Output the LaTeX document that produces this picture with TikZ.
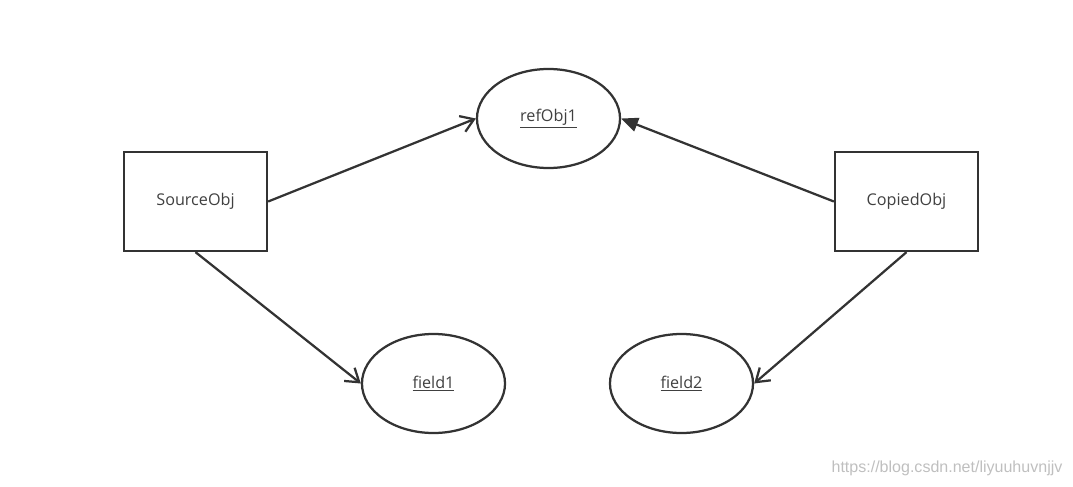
\documentclass[tikz,border=0pt]{standalone}
\usepackage{fontspec}
\setmainfont{Open Sans}
\newfontfamily\markfont{Liberation Sans}
\usetikzlibrary{arrows.meta, positioning, shapes.geometric}

\tikzset{
	objbox/.style={draw=black!80, line width=1.6pt, minimum width=3.575cm, minimum height=2.475cm, inner sep=0pt, font=\fontsize{11.5}{14}\selectfont, text=black!75},
	objell/.style={ellipse, draw=black!80, line width=1.6pt, minimum width=3.575cm, minimum height=2.475cm, inner sep=0pt, font=\fontsize{11.5}{14}\selectfont, text=black!75},
	link/.style={draw=black!80, line width=1.6pt},
}

\begin{document}
\begin{tikzpicture}[x=0.025cm, y=-0.025cm]
		\useasboundingbox (0,0) rectangle (1073,487);
		\node[objbox] (src) at (195.5,201.5) {SourceObj};
		\node[objbox] (cpy) at (906.5,201.5) {CopiedObj};
		\node[objell] (ref) at (548.5,118.5) {\underline{refObj1}};
		\node[objell] (fa) at (433.5,383.5) {\underline{field1}};
		\node[objell] (fb) at (681.5,383.5) {\underline{field2}};
		
		\draw[link, -{Straight Barb[length=9pt, width=12pt]}] (src.east) -- (ref.west);
		\draw[link, -{Triangle[length=12pt, width=10pt]}] (cpy.west) -- (ref.east);
		\draw[link, -{Straight Barb[length=9pt, width=12pt]}] (src.south) -- (fa.west);
		\draw[link, -{Straight Barb[length=9pt, width=12pt]}] (cpy.south) -- (fb.east);
		
		\node[text=black!25, font=\markfont\fontsize{11.4}{14}\selectfont] (wm) at (947,468) {https://blog.csdn.net/liyuuhuvnjjv};
	\end{tikzpicture}
\end{document}
